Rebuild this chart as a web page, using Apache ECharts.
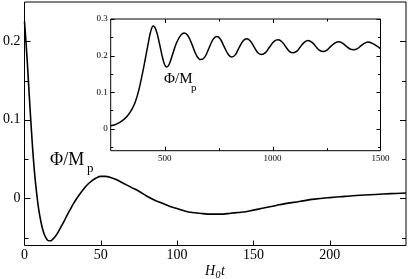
<!DOCTYPE html>
<html><head><meta charset="utf-8">
<script src="https://cdn.jsdelivr.net/npm/echarts@6/dist/echarts.min.js"></script>
<style>html,body{margin:0;padding:0;background:#fff}#c{width:409px;height:279px}</style>
</head><body><div id="c"></div>
<script>
// Main panel: H0 t vs Phi/Mp
const mainT = [0,1,2,3,4,5,6,7,8,9,10,11,12,13,14,15,16,17,18,20,22,24,26,28,30,32,35,38,41,44,47,50,53,56,60,65,70,75,80,85,90,95,100,105,110,115,120,125,130,135,140,145,150,155,160,165,170,180,190,200,210,220,230,240,250];
const mainV = [0.225,0.198,0.168,0.135,0.103,0.073,0.046,0.024,0.006,-0.010,-0.022,-0.032,-0.040,-0.046,-0.050,-0.053,-0.054,-0.054,-0.053,-0.049,-0.043,-0.036,-0.029,-0.021,-0.014,-0.007,0.002,0.010,0.017,0.022,0.026,0.028,0.028,0.027,0.024,0.019,0.014,0.009,0.003,-0.002,-0.006,-0.010,-0.013,-0.016,-0.018,-0.019,-0.020,-0.020,-0.020,-0.019,-0.018,-0.017,-0.015,-0.013,-0.011,-0.009,-0.007,-0.004,-0.001,0.001,0.0025,0.004,0.005,0.006,0.0068];
// Inset panel: later times
const insetT = [250,270,290,310,330,350,365,380,395,410,425,435,447,460,475,490,500,509,520,535,555,575,591,607,627,647,667,685,705,725,741,757,775,795,810,827,845,865,880,897,915,933,949,967,987,1007,1026,1043,1061,1079,1095,1113,1130,1148,1165,1183,1200,1218,1234,1252,1271,1290,1307,1324,1341,1359,1376,1393,1410,1427,1443,1460,1480,1500];
const insetV = [0.008,0.011,0.017,0.025,0.037,0.055,0.075,0.105,0.145,0.190,0.237,0.265,0.281,0.270,0.235,0.195,0.175,0.169,0.175,0.200,0.235,0.256,0.262,0.255,0.230,0.201,0.189,0.195,0.220,0.245,0.252,0.246,0.225,0.203,0.196,0.202,0.222,0.241,0.246,0.240,0.223,0.207,0.203,0.208,0.224,0.239,0.243,0.238,0.224,0.211,0.208,0.212,0.225,0.237,0.241,0.236,0.225,0.214,0.211,0.215,0.226,0.235,0.238,0.234,0.226,0.218,0.216,0.219,0.227,0.234,0.237,0.234,0.227,0.219];
// Tick labels / ticks
const mainXLabels = [0,50,100,150,200];
const mainXTicks = [50,100,150,200];
const mainYLabels = [0,0.1,0.2];
const mainYMinor = [-0.05,0.05,0.15];
const insetXLabels = [500,1000,1500];
const insetXTicks = [500,1000];
const insetXMinor = [750,1250];
const insetYLabels = [0,0.1,0.2,0.3];
const insetYMinor = [-0.05,0.05,0.15,0.25];
// axis ranges
const mainX = [0,250], mainY = [-0.06,0.25];
const insetX = [250,1500], insetY = [-0.06,0.3];

const FONT = '"Liberation Serif", "Times New Roman", "DejaVu Serif", serif';
function fmt(v){ return String(Math.round(v*100)/100); }
function lbl(fs, margin, vals){ return {fontFamily:FONT, fontSize:fs, color:'#000', margin:margin, customValues:vals, formatter:fmt}; }
function axis(grid, pos, rng, labels, fs, margin){
  return {type:'value', gridIndex:grid, position:pos, min:rng[0], max:rng[1],
    splitLine:{show:false}, axisLine:{show:false, onZero:false}, axisTick:{show:false},
    axisLabel: labels ? lbl(fs, margin, labels) : {show:false}};
}
// Tick marks drawn through the axes' scales (api.coord); dir = +1 inward from left/bottom, -1 from right/top
function ticks(xi, yi, dim, values, edge, len, dir, z){
  return {
    type:'custom', xAxisIndex:xi, yAxisIndex:yi, clip:false, z:z, silent:true,
    data: values.map(v => dim === 'x' ? [v, edge] : [edge, v]),
    renderItem: function(params, api){
      const p = api.coord([api.value(0), api.value(1)]);
      let x1, y1, x2, y2;
      if (dim === 'x') { x1 = x2 = Math.round(p[0]) + 0.5; y1 = p[1]; y2 = p[1] - dir*len; }
      else { y1 = y2 = Math.round(p[1]) + 0.5; x1 = p[0]; x2 = p[0] + dir*len; }
      return {type:'line', shape:{x1:x1,y1:y1,x2:x2,y2:y2}, style:{stroke:'#000', lineWidth:1}};
    }
  };
}
function txt(x,y,s,size,italic){
  return {type:'text', left:x, top:y, z:10, style:{text:s, font:(italic?'italic ':'')+size+'px '+FONT, fill:'#000'}};
}
const chart = echarts.init(document.getElementById('c'), null, {renderer:'canvas'});
chart.setOption({
  animation:false,
  backgroundColor:'#fff',
  grid:[
    {left:22.5, right:3, top:2, bottom:33.5, show:true, borderColor:'#000', borderWidth:1, backgroundColor:'transparent'},
    {left:110.7, right:28.5, top:19, bottom:128.3, show:true, borderColor:'#000', borderWidth:1, backgroundColor:'#fff', z:5}
  ],
  xAxis:[
    axis(0,'bottom',mainX,mainXLabels,14,3),
    axis(1,'bottom',insetX,insetXLabels,9,3)
  ],
  yAxis:[
    axis(0,'left',mainY,mainYLabels,14,4),
    axis(1,'left',insetY,insetYLabels,9,3)
  ],
  series:[
    {type:'line', xAxisIndex:0, yAxisIndex:0, data:mainT.map((t,i)=>[t,mainV[i]]), smooth:0.4, showSymbol:false, lineStyle:{color:'#000',width:1.6}, z:3},
    {type:'line', xAxisIndex:1, yAxisIndex:1, data:insetT.map((t,i)=>[t,insetV[i]]), smooth:0.4, showSymbol:false, lineStyle:{color:'#000',width:1.5}, z:6},
    // main ticks
    ticks(0,0,'x',mainXTicks,mainY[0],5,1,4),
    ticks(0,0,'y',mainYLabels,mainX[0],6,1,4),
    ticks(0,0,'y',mainYMinor,mainX[0],4,1,4),
    ticks(0,0,'y',mainYLabels,mainX[1],6,-1,4),
    ticks(0,0,'y',mainYMinor,mainX[1],4,-1,4),
    // inset ticks
    ticks(1,1,'x',insetXTicks,insetY[0],4,1,7),
    ticks(1,1,'x',insetXMinor,insetY[0],2.5,1,7),
    ticks(1,1,'x',insetXTicks,insetY[1],4,-1,7),
    ticks(1,1,'x',insetXMinor,insetY[1],2.5,-1,7),
    ticks(1,1,'y',insetYLabels,insetX[0],4,1,7),
    ticks(1,1,'y',insetYMinor,insetX[0],2.5,1,7),
    ticks(1,1,'y',insetYLabels,insetX[1],4,-1,7),
    ticks(1,1,'y',insetYMinor,insetX[1],2.5,-1,7)
  ],
  graphic:[
    txt(50,151,'Φ/M',18), txt(87,162,'p',13),
    txt(164,72,'Φ/M',15), txt(191,83,'p',11),
    txt(205,264,'H',14,true), txt(215.5,270,'0',10,true), txt(221,264,'t',14,true)
  ]
});
</script></body></html>
